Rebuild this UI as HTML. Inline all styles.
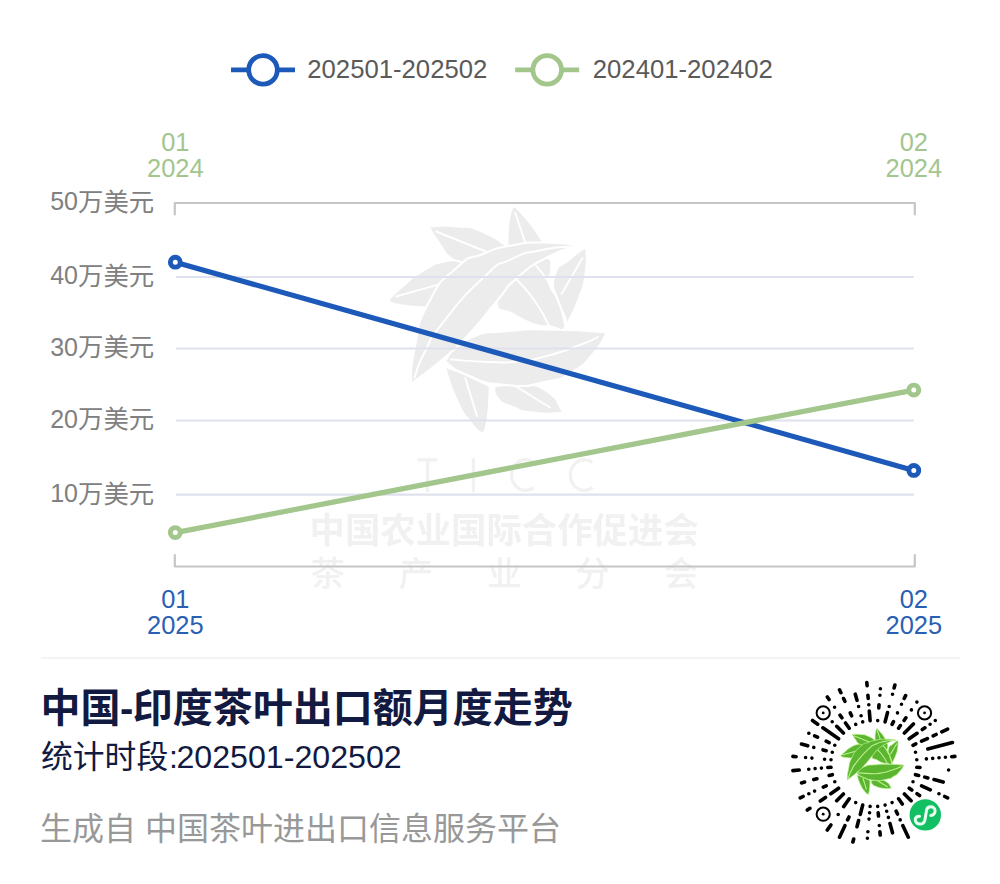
<!DOCTYPE html>
<html><head><meta charset="utf-8"><title>chart</title>
<style>
html,body{margin:0;padding:0;background:#fff;}
body{width:1000px;height:884px;overflow:hidden;}
svg{display:block}
text{font-family:"Liberation Sans","Noto Sans CJK SC",sans-serif;}
</style></head><body>
<svg width="1000" height="884" viewBox="0 0 1000 884">
<rect width="1000" height="884" fill="#fff"/>

<defs>
<g id="logo">
<g fill="var(--lf)" stroke="var(--ln)" stroke-width="var(--ow)" stroke-linejoin="round">
<path d="M513.5,205.1C512.0,209.7 511.0,207.5 509.0,219.0C507.0,230.5 507.9,229.4 507.6,239.7C507.3,250.0 507.9,246.6 508.0,250.0L545.0,250.0C543.8,246.6 547.6,250.0 541.5,239.7C535.4,229.4 536.1,230.5 526.8,219.0C517.5,207.5 517.9,209.7 513.5,205.1Z"/>
<path d="M428.5,226.5C437.3,226.4 436.8,224.4 455.0,226.2C473.2,228.0 464.0,224.1 483.0,232.0C502.0,239.9 502.3,244.0 512.0,250.0L470.0,266.0C464.0,263.7 462.4,266.8 452.0,259.0C441.6,251.2 446.6,253.4 438.8,242.6C431.0,231.8 431.9,231.9 428.5,226.5Z"/>
<path d="M388.0,300.0C393.0,295.3 391.7,295.5 403.0,286.0C414.3,276.5 408.3,279.7 422.0,271.5C435.7,263.3 430.7,264.7 444.0,261.5C457.3,258.3 456.0,261.8 462.0,262.0L440.0,306.0C435.2,306.5 439.3,307.7 425.6,307.4C411.9,307.1 411.5,307.5 399.0,305.0C386.5,302.5 391.7,301.7 388.0,300.0Z"/>
<path d="M586.3,247.0C580.9,251.0 580.6,249.3 570.0,259.0C559.4,268.7 558.5,261.3 554.5,276.0C550.5,290.7 554.3,286.0 558.0,303.0C561.7,320.0 563.0,319.0 565.5,327.0L565.5,327.0C569.7,318.0 571.5,317.8 578.2,300.0C584.9,282.2 582.9,291.2 585.6,273.5C588.3,255.8 586.1,255.8 586.3,247.0Z"/>
<path d="M497.0,302.0C497.5,289.7 504.2,291.0 516.5,278.0C528.8,265.0 523.5,269.7 534.0,263.0C544.5,256.3 542.3,255.3 548.0,258.0C553.7,260.7 550.7,262.7 551.0,271.0C551.3,279.3 546.3,272.3 549.0,283.0C551.7,293.7 553.7,288.3 559.0,303.0C564.3,317.7 568.3,319.3 565.0,327.0C561.7,334.7 559.1,326.8 549.0,326.0C538.9,325.2 546.0,328.2 534.7,324.5C523.4,320.8 527.6,322.5 515.0,315.0C502.4,307.5 496.5,314.3 497.0,302.0Z"/>
<path d="M444.7,366.5C448.6,377.5 447.7,380.6 456.5,399.4C465.3,418.2 462.1,411.2 471.2,423.0C480.3,434.8 479.5,430.8 483.7,434.7L483.7,434.7C485.1,428.3 486.0,431.8 488.0,415.6C490.0,399.4 489.2,395.9 489.8,386.0L462.4,373Z"/>
<path d="M494.4,386.2C502.7,385.9 502.2,383.9 519.4,385.4C536.6,386.9 531.2,381.5 545.9,390.6C560.6,399.7 557.6,405.4 563.5,412.8L563.5,412.8C554.3,412.9 553.2,415.0 536.0,413.0C518.8,411.0 524.8,411.8 512.0,406.8C499.2,401.8 503.4,404.9 497.5,398.0C491.6,391.1 495.4,390.1 494.4,386.2Z"/>
</g>
<g fill="none" stroke="var(--ln)" stroke-width="var(--vw)" stroke-linecap="round">
<path d="M515.2,213.0C518.7,223.3 522.3,233.7 525.8,244.0"/>
<path d="M436.0,231.5C453.0,238.3 470.0,245.2 487.0,252.0"/>
<path d="M396.0,296.5C410.7,292.4 425.3,288.3 440.0,284.2"/>
<path d="M582.5,258.0C575.5,270.0 568.5,282.0 561.5,294.0"/>
<path d="M516.5,279.4C522.3,286.3 523.2,284.8 534.0,300.0C544.8,315.2 543.9,316.7 548.8,325.0"/>
<path d="M534.0,263.2C538.9,269.6 540.5,269.1 548.8,282.4C557.1,295.7 553.6,288.8 559.0,303.0C564.4,317.2 563.0,317.7 565.0,325.0"/>
<path d="M465.3,378.0C469.2,390.7 473.1,403.3 477.0,416.0"/>
<path d="M516.0,386.5C527.3,393.5 538.7,400.5 550.0,407.5"/>
</g>
<g fill="var(--lf)" stroke="var(--ln)" stroke-width="var(--ow)" stroke-linejoin="round">
<path d="M444.7,361.0C452.5,353.7 446.4,349.0 468.0,339.0C489.6,329.0 480.1,334.1 509.4,331.0C538.7,327.9 523.5,329.3 556.0,329.8C588.5,330.3 590.0,331.6 607.0,332.5L607.0,332.5C602.3,339.6 604.5,340.8 593.0,353.8C581.5,366.8 588.1,362.2 572.4,371.5C556.7,380.8 568.4,377.4 545.9,381.8C523.4,386.2 531.6,387.2 505.0,384.8C478.4,382.4 486.1,382.4 466.0,374.5C445.9,366.6 451.8,365.5 444.7,361.0Z"/>
</g>
<g fill="none" stroke="var(--ln)" stroke-width="var(--vw)" stroke-linecap="round">
<path d="M450.6,359.5C463.7,360.3 467.1,361.4 490.0,362.0C512.9,362.6 499.8,363.4 519.4,361.2C539.0,359.0 528.7,360.7 548.8,355.3C568.9,349.9 563.3,351.1 579.7,345.0C596.1,338.9 591.9,339.7 598.0,337.0"/>
</g>
<g fill="var(--lf)" stroke="var(--ln)" stroke-width="var(--ow)" stroke-linejoin="round">
<path d="M410.9,384.0C412.1,372.3 408.6,376.0 414.5,349.0C420.4,322.0 414.3,330.2 428.5,303.0C442.7,275.8 438.8,283.8 457.0,267.5C475.2,251.2 465.3,261.2 483.0,254.0C500.7,246.8 489.7,249.6 510.0,245.8C530.3,242.0 520.8,242.7 544.0,242.6C567.2,242.5 567.8,244.6 579.7,245.6L579.7,245.6C569.4,249.2 569.7,245.7 548.8,256.5C527.9,267.3 533.8,263.8 517.0,278.0C500.2,292.2 514.2,280.7 498.5,299.0C482.8,317.3 487.9,313.5 470.0,333.0C452.1,352.5 464.4,340.5 444.7,357.5C425.0,374.5 422.2,375.2 410.9,384.0Z"/>
</g>
<g fill="none" stroke="var(--ln)" stroke-width="var(--vw)" stroke-linecap="round">
<path d="M414.5,377.5C418.0,368.8 415.3,370.0 425.0,351.5C434.7,333.0 424.2,346.5 443.5,322.0C462.8,297.5 460.5,298.9 483.0,278.0C505.5,257.1 491.3,268.6 511.0,259.3C530.7,250.0 521.7,254.3 542.0,250.0C562.3,245.7 562.0,247.7 572.0,246.5"/>
</g>
</g>
<filter id="wb" x="-5%" y="-5%" width="110%" height="110%"><feGaussianBlur stdDeviation="0.6"/></filter></defs>
<g id="watermark" filter="url(#wb)">
<use href="#logo" style="--lf:#ececec;--ln:#fff;--ow:2px;--vw:1.9px"/>
<g fill="none" stroke="#f1f1f1" stroke-width="3.3"><path d="M417.6,459.8H437.4M427.7,459.8V492.3"/><path d="M473.4,458.2V492.3"/><path d="M533.6,462.4A14,15.35 0 1 0 533.6,487.6"/><path d="M592.4,462.4A14,15.35 0 1 0 592.4,487.6"/></g>
<text x="309.5" y="542.9" font-size="35.4" font-weight="bold" fill="#f1f1f1">中国农业国际合作促进会</text>
<text x="310.5" y="586.3" font-size="34.5" font-weight="500" fill="#f1f1f1" letter-spacing="53.8">茶产业分会</text>
</g>
<g stroke="#e0e1ee" stroke-width="2.2" fill="none">
<path d="M175.8,277.0H913.8"/>
<path d="M175.8,348.5H913.8"/>
<path d="M175.8,420.5H913.8"/>
<path d="M175.8,494.7H913.8"/>
</g>
<g stroke="#c6c6c6" stroke-width="2.2" fill="none" stroke-linejoin="round"><path d="M174.8,215.3V203H914.8V215.3"/><path d="M174.8,554.2V566.5H914.8V554.2"/></g>
<text x="50.19" y="210.30" font-size="25" fill="#808080">50</text>
<text x="78.00" y="210.80" font-size="25.4" fill="#808080">万美元</text>
<text x="50.19" y="284.30" font-size="25" fill="#808080">40</text>
<text x="78.00" y="284.80" font-size="25.4" fill="#808080">万美元</text>
<text x="50.19" y="355.80" font-size="25" fill="#808080">30</text>
<text x="78.00" y="356.30" font-size="25.4" fill="#808080">万美元</text>
<text x="50.19" y="427.80" font-size="25" fill="#808080">20</text>
<text x="78.00" y="428.30" font-size="25.4" fill="#808080">万美元</text>
<text x="50.19" y="502.00" font-size="25" fill="#808080">10</text>
<text x="78.00" y="502.50" font-size="25.4" fill="#808080">万美元</text>
<text x="161.17" y="151.20" font-size="25.4" fill="#a3c58e">01</text>
<text x="147.05" y="177.20" font-size="25.4" fill="#a3c58e">2024</text>
<text x="899.67" y="151.20" font-size="25.4" fill="#a3c58e">02</text>
<text x="885.55" y="177.20" font-size="25.4" fill="#a3c58e">2024</text>
<text x="161.17" y="607.80" font-size="25.4" fill="#2a60b3">01</text>
<text x="147.05" y="633.90" font-size="25.4" fill="#2a60b3">2025</text>
<text x="899.67" y="607.80" font-size="25.4" fill="#2a60b3">02</text>
<text x="885.55" y="633.90" font-size="25.4" fill="#2a60b3">2025</text>
<g stroke="#1c59b8" fill="#fff"><path d="M175.3,262.2L913.8,470.4" fill="none" stroke-width="5.2"/><circle cx="175.3" cy="262.2" r="4.95" stroke-width="4.9"/><circle cx="913.8" cy="470.4" r="4.95" stroke-width="4.9"/></g>
<g stroke="#a2c68b" fill="#fff"><path d="M175.3,532.6L913.8,390.1" fill="none" stroke-width="5.2"/><circle cx="175.3" cy="532.6" r="4.95" stroke-width="4.9"/><circle cx="913.8" cy="390.1" r="4.95" stroke-width="4.9"/></g>
<g stroke="#1c59b8" stroke-width="4.8" fill="#fff"><path d="M231,69.9H295" fill="none"/><circle cx="263" cy="69.9" r="14.3"/></g>
<text x="307.30" y="78.40" font-size="25.7" fill="#5a5a5a">202501-202502</text>
<g stroke="#a2c68b" stroke-width="4.8" fill="#fff"><path d="M515.2,69.9H579.2" fill="none"/><circle cx="547.2" cy="69.9" r="14.3"/></g>
<text x="592.80" y="78.40" font-size="25.7" fill="#5a5a5a">202401-202402</text>
<rect x="41" y="657" width="919" height="2" fill="#f4f4f4"/>
<text x="40.5" y="722.4" font-size="40" font-weight="bold" fill="#121a41">中国</text>
<text x="120" y="722.4" font-size="40" font-weight="bold" fill="#121a41">-</text>
<text x="132.8" y="722.4" font-size="40" font-weight="bold" fill="#121a41">印度茶叶出口额月度走势</text>
<text x="41.0" y="767.8" font-size="31.8" fill="#121a41">统计时段</text>
<text x="168.90" y="767.80" font-size="32" fill="#121a41">:</text>
<text x="176.40" y="767.80" font-size="32.17" fill="#121a41">202501-202502</text>
<text x="40.1" y="839.6" font-size="32" fill="#989898">生成自</text>
<text x="145.0" y="839.6" font-size="32" fill="#989898">中国茶叶进出口信息服务平台</text>
<g id="qr">
<g stroke="#000" stroke-width="3.6" stroke-linecap="round" fill="none"><path d="
M916.8,759.7L916.8,759.7
M926.4,758.9L926.4,758.9
M932.7,758.4L932.7,758.4
M939.0,757.8L939.1,757.8
M945.4,757.2L945.4,757.2
M951.7,756.7L954.9,756.4
M915.5,752.3L915.5,752.3
M927.8,749.0L952.4,742.5
M913.0,745.3L915.8,743.9
M921.6,741.2L927.4,738.6
M933.2,735.9L936.1,734.5
M941.8,731.8L947.6,729.1
M909.2,738.8L917.0,733.3
M922.3,729.6L924.9,727.8
M930.1,724.2L930.1,724.2
M935.3,720.5L935.3,720.5
M904.4,733.0L913.4,724.0
M898.6,728.2L900.4,725.6
M904.1,720.4L905.9,717.8
M911.4,709.9L911.4,709.9
M916.9,702.1L916.9,702.1
M892.1,724.4L893.5,721.6
M897.5,712.9L897.5,712.9
M901.5,704.2L901.5,704.2
M904.2,698.5L905.6,695.6
M885.1,721.9L887.5,712.6
M889.2,706.5L889.2,706.5
M892.5,694.2L892.5,694.2
M894.1,688.0L894.9,685.0
M877.7,720.6L877.7,720.6
M878.8,707.9L879.0,704.7
M879.9,695.2L879.9,695.2
M880.4,688.8L880.4,688.8
M870.1,720.6L869.3,711.0
M868.8,704.7L868.8,704.7
M868.2,698.4L867.9,695.2
M867.1,685.7L866.8,682.5
M862.7,721.9L862.7,721.9
M861.1,715.7L861.1,715.7
M858.6,706.5L858.6,706.5
M857.0,700.3L855.3,694.2
M855.7,724.4L855.7,724.4
M851.6,715.8L850.3,712.9
M844.9,701.3L843.6,698.5
M840.9,692.7L839.5,689.8
M849.2,728.2L845.5,723.0
M841.9,717.8L840.0,715.1
M834.6,707.3L834.6,707.3
M829.1,699.5L827.3,696.9
M843.4,733.0L836.7,726.3
M832.2,721.8L832.2,721.8
M838.6,738.8L822.9,727.8
M817.7,724.2L812.5,720.5
M834.8,745.3L834.8,745.3
M829.1,742.6L826.2,741.2
M817.5,737.2L814.6,735.9
M808.9,733.2L808.8,733.2
M832.3,752.3L832.3,752.3
M826.1,750.7L823.0,749.9
M813.8,747.4L813.8,747.4
M807.7,745.8L801.5,744.1
M831.0,759.7L831.0,759.7
M824.6,759.2L824.6,759.2
M811.9,758.1L811.9,758.1
M805.6,757.5L805.6,757.5
M796.1,756.7L792.9,756.4
M831.0,767.3L827.8,767.5
M821.4,768.1L821.4,768.1
M815.1,768.6L815.1,768.6
M808.8,769.2L808.7,769.2
M799.2,770.0L792.9,770.6
M832.3,774.7L829.2,775.5
M816.9,778.8L813.8,779.6
M804.6,782.1L801.5,782.9
M834.8,781.7L834.8,781.7
M826.2,785.8L823.3,787.1
M814.6,791.1L814.6,791.1
M808.9,793.8L808.8,793.8
M803.1,796.5L800.2,797.9
M838.6,788.2L830.8,793.7
M825.5,797.4L820.3,801.0
M809.9,808.3L807.3,810.1
M843.4,794.0L836.7,800.7
M849.2,798.8L843.7,806.6
M838.2,814.5L838.2,814.5
M830.9,824.9L827.3,830.1
M855.7,802.6L855.7,802.6
M849.0,817.0L847.6,819.9
M844.9,825.7L839.5,837.2
M862.7,805.1L860.3,814.4
M858.6,820.5L857.0,826.7
M853.7,839.0L852.9,842.0
M870.1,806.4L870.1,806.4
M869.6,812.8L869.6,812.8
M869.0,819.1L869.0,819.1
M867.9,831.8L867.9,831.8
M867.4,838.2L867.4,838.2
M877.7,806.4L877.7,806.4
M878.2,812.8L878.5,816.0
M879.3,825.5L879.3,825.5
M879.9,831.8L880.2,835.0
M885.1,805.1L885.1,805.1
M886.7,811.3L886.7,811.3
M888.4,817.4L888.4,817.4
M890.0,823.6L892.5,832.8
M892.1,802.6L892.1,802.6
M896.2,811.2L897.5,814.1
M900.2,819.9L900.2,819.9
M902.9,825.7L908.3,837.2
M898.6,798.8L902.3,804.0
M904.4,794.0L911.1,800.7
M909.2,788.2L911.8,790.0
M917.0,793.7L919.6,795.5
M913.0,781.7L913.0,781.7
M921.6,785.8L930.3,789.8
M938.9,793.8L939.0,793.8
M944.7,796.5L947.6,797.9
M915.5,774.7L918.6,775.5
M924.8,777.1L927.8,778.0
M934.0,779.6L943.2,782.1
M916.8,767.3L920.0,767.5
M948.6,770.0L948.6,770.0
"/></g>
<circle cx="823.2" cy="712.9" r="6.6" fill="#fff" stroke="#000" stroke-width="2"/><circle cx="823.2" cy="712.9" r="1.4" fill="#000"/>
<circle cx="924.55" cy="712.9" r="6.6" fill="#fff" stroke="#000" stroke-width="2"/><circle cx="924.55" cy="712.9" r="1.4" fill="#000"/>
<circle cx="823.2" cy="814.2" r="6.6" fill="#fff" stroke="#000" stroke-width="2"/><circle cx="823.2" cy="814.2" r="1.4" fill="#000"/>
<g transform="translate(872.25,761.5) scale(0.288) translate(-497.5,-319.9)"><use href="#logo" style="--lf:#5cb531;--ln:#b9f08c;--ow:2.6px;--vw:3.8px"/></g>
<circle cx="925.3" cy="814.9" r="15.7" fill="#12bf63"/>
<path d="M930.8,815.4C933.5,815.2 935.2,813.2 935.1,810.8C935,808.2 933,806.7 930.8,806.7C928.3,806.7 926.7,808.4 926.5,810.6L925,819.4C924.7,822.2 922.6,824.1 919.9,824.1C917.2,824.1 915.3,822.2 915.3,819.6C915.3,817.6 917,816.3 919.5,816.3" fill="none" stroke="#e9fff1" stroke-width="3" stroke-linecap="round"/>
</g>
</svg></body></html>
